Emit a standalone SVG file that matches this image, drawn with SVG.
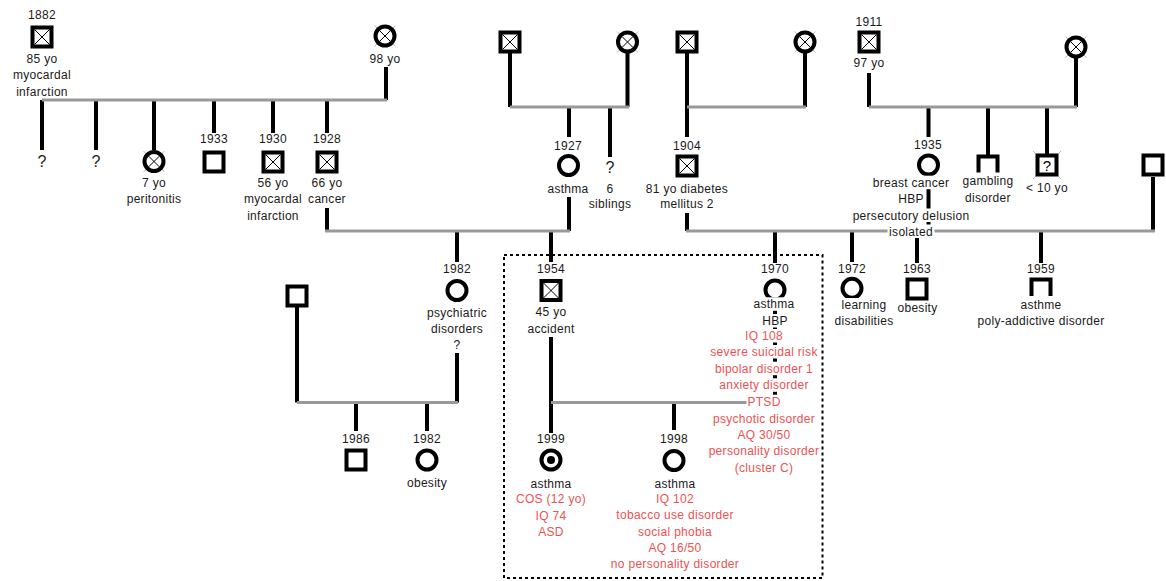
<svg xmlns="http://www.w3.org/2000/svg" width="1166" height="581" viewBox="0 0 1166 581">
<style>
text{font-family:"Liberation Sans",Arial,sans-serif;font-size:12px;letter-spacing:0.3px;text-anchor:middle;fill:#1a1a1a}
text.r{fill:#ee5252}
text.q{font-size:16px}
text.qi{font-size:15px;fill:#000}
.bg{fill:#fff}
.v{stroke:#000;stroke-width:4;fill:none}
.h{stroke:#999;stroke-width:3;fill:none}
.box{fill:none;stroke:#000;stroke-width:2;stroke-dasharray:3 3}
.sym{fill:#fff;stroke:#000;stroke-width:4}
.x{stroke:#000;stroke-width:1;fill:none}
.xo{stroke:#bbb;stroke-width:1;fill:none}
</style>
<defs>
<g id="m"><rect class="sym" x="-9.5" y="-9.5" width="19" height="19"/></g>
<g id="md"><rect class="sym" x="-9.5" y="-9.5" width="19" height="19"/><path class="x" d="M-7.5,-7.5L7.5,7.5M7.5,-7.5L-7.5,7.5"/></g>
<g id="f"><circle class="sym" r="9.5"/></g>
<g id="fd"><path class="xo" d="M-10.5,-10.5L10.5,10.5M10.5,-10.5L-10.5,10.5"/><circle class="sym" r="9.5"/><path class="x" d="M-5.3,-5.3L5.3,5.3M5.3,-5.3L-5.3,5.3"/></g>
</defs>
<rect width="1166" height="581" fill="#fff"/>

<rect id="proband-box" class="box" x="504" y="255" width="318.5" height="323"/>

<g id="connectors">
<path class="v" d="M386,67V100M42,100V150M96,100V150M154,100V150M214,100V133M273,100V133M327,100V133M327,208V231"/>
<path class="v" d="M510,53V107M627.5,53V107M569,107V137M569,197V231M610,107V157"/>
<path class="v" d="M687,53V137M805,53V107M687,213V231"/>
<path class="v" d="M869,73V107M1076,58V107M928.5,107V137M928.5,177V231M988,107V157M1047,107V155M1153,177V231"/>
<path class="v" d="M457,231V262M457,353V402.5M551,231V262M551,337V433M775,231V263M775,301V402.5M852,231V262M917,231V263M1041,231V263"/>
<path class="v" d="M297,307V402.5M356,402.5V431M427,402.5V431M674,402.5V430"/>
<path class="h" d="M42,100H387M510,107H629M687,107H806M869,107H1077M325,231H570M686,231H1155M297,402.5H458M551,402.5H747"/>
</g>

<g id="n1882"><text x="42" y="19">1882</text><use href="#md" x="42" y="37"/><text x="42" y="62.5">85 yo</text><text x="42" y="79">myocardal</text><text x="42" y="95.5">infarction</text></g>
<g id="nA-wife"><use href="#fd" x="385" y="36"/><text x="385" y="63">98 yo</text></g>
<g id="nA-c1"><text class="q" x="42" y="166.5">?</text></g>
<g id="nA-c2"><text class="q" x="96" y="166.5">?</text></g>
<g id="nA-c3"><use href="#fd" x="154" y="161.5"/><text x="154" y="187">7 yo</text><text x="154" y="203">peritonitis</text></g>
<g id="n1933"><text x="214" y="143">1933</text><use href="#m" x="214" y="162"/></g>
<g id="n1930"><text x="273" y="143">1930</text><use href="#md" x="273" y="162"/><text x="273" y="187">56 yo</text><text x="273" y="203">myocardal</text><text x="273" y="220">infarction</text></g>
<g id="n1928"><text x="327" y="143">1928</text><use href="#md" x="327" y="162"/><text x="327" y="187">66 yo</text><text x="327" y="203">cancer</text></g>

<g id="nB-husband"><use href="#md" x="510" y="42"/></g>
<g id="nB-wife"><use href="#fd" x="627.5" y="42"/></g>
<g id="n1927"><text x="568" y="150">1927</text><use href="#f" x="568.5" y="165.5"/><text x="568" y="192.5">asthma</text></g>
<g id="nB-sibs"><text class="q" x="610" y="173">?</text><text x="610" y="193">6</text><text x="610" y="208">siblings</text></g>

<g id="nC-husband"><use href="#md" x="687" y="42"/></g>
<g id="nC-wife"><use href="#fd" x="805" y="42"/></g>
<g id="n1904"><text x="687" y="150">1904</text><use href="#md" x="687" y="166"/><text x="687" y="193">81 yo diabetes</text><text x="687" y="208">mellitus 2</text></g>

<g id="n1911"><text x="869" y="25.5">1911</text><use href="#md" x="869" y="42"/><text x="869" y="66.5">97 yo</text></g>
<g id="nD-wife"><use href="#fd" x="1076" y="47"/></g>
<g id="n1935"><text x="928" y="149">1935</text><use href="#f" x="928.5" y="165"/>
<rect class="bg" x="872" y="175.7" width="79" height="13.5"/><text x="911" y="186.7">breast cancer</text>
<rect class="bg" x="897" y="191.7" width="28" height="13.5"/><text x="911" y="202.7">HBP</text>
<rect class="bg" x="851.5" y="208.5" width="119" height="13.5"/><text x="911" y="219.5">persecutory delusion</text>
<rect class="bg" x="887.5" y="224.5" width="47" height="13.5"/><text x="911" y="235.5">isolated</text></g>
<g id="nD-gambling"><use href="#m" x="988" y="166"/><rect class="bg" x="961.5" y="172.5" width="53" height="15"/><text x="988" y="185">gambling</text><text x="988" y="201.7">disorder</text></g>
<g id="nD-young"><path class="xo" d="M1033,151L1061,179M1061,151L1033,179"/><rect class="sym" x="1037.5" y="155.5" width="19" height="19"/><text class="qi" x="1047" y="170.5">?</text><text x="1047" y="191.7">&lt; 10 yo</text></g>
<g id="nE-husband"><use href="#m" x="1153" y="165"/></g>

<g id="n1982a"><text x="457" y="273">1982</text><use href="#f" x="457" y="290.5"/><text x="457" y="316.5">psychiatric</text><text x="457" y="332.7">disorders</text><text x="457" y="349">?</text></g>
<g id="n1954"><text x="551" y="273">1954</text><use href="#md" x="551" y="290.5"/><text x="551" y="316">45 yo</text><text x="551" y="332.7">accident</text></g>
<g id="n1970"><text x="775" y="273">1970</text><use href="#f" x="775" y="290"/>
<rect class="bg" x="752.5" y="297.3" width="43" height="13.5"/><text x="774" y="308.3">asthma</text>
<rect class="bg" x="761" y="314" width="28" height="13.5"/><text x="775" y="325">HBP</text>
<rect class="bg" x="744" y="329" width="40" height="13.5"/><text class="r" x="764" y="340">IQ 108</text>
<rect class="bg" x="709" y="345" width="110" height="13.5"/><text class="r" x="764" y="356">severe suicidal risk</text>
<rect class="bg" x="714" y="361.7" width="100" height="13.5"/><text class="r" x="764" y="372.7">bipolar disorder 1</text>
<rect class="bg" x="718" y="378.3" width="92" height="13.5"/><text class="r" x="764" y="389.3">anxiety disorder</text>
<rect class="bg" x="746.5" y="394.7" width="35" height="13.5"/><text class="r" x="764" y="405.7">PTSD</text>
<text class="r" x="764" y="422.7">psychotic disorder</text>
<text class="r" x="764" y="439">AQ 30/50</text>
<text class="r" x="764" y="455">personality disorder</text>
<text class="r" x="764" y="471.7">(cluster C)</text></g>
<g id="n1972"><text x="852" y="273">1972</text><use href="#f" x="852" y="288.3"/><rect class="bg" x="840.5" y="298" width="47" height="13.5"/><text x="864" y="309">learning</text><text x="864" y="325">disabilities</text></g>
<g id="n1963"><text x="917" y="273">1963</text><use href="#m" x="917" y="289"/><rect class="bg" x="896.5" y="301" width="42" height="13.5"/><text x="917.5" y="312">obesity</text></g>
<g id="n1959"><text x="1041" y="273">1959</text><use href="#m" x="1041" y="289"/><rect class="bg" x="1019.5" y="296" width="43" height="15.5"/><text x="1041" y="309">asthme</text><text x="1041" y="325">poly-addictive disorder</text></g>

<g id="nF-husband"><use href="#m" x="297" y="296"/></g>
<g id="n1986"><text x="356" y="443">1986</text><use href="#m" x="356" y="460"/></g>
<g id="n1982b"><text x="427" y="443">1982</text><use href="#f" x="427" y="460"/><text x="427" y="486.7">obesity</text></g>
<g id="n1999"><text x="551" y="443">1999</text><use href="#f" x="551" y="460"/><circle cx="551" cy="460" r="4" fill="#000"/><text x="551" y="488">asthma</text><text class="r" x="551" y="503.3">COS (12 yo)</text><text class="r" x="551" y="519.7">IQ 74</text><text class="r" x="551" y="536">ASD</text></g>
<g id="n1998"><text x="674" y="443">1998</text><use href="#f" x="674" y="460.5"/><text x="675" y="488.3">asthma</text><text class="r" x="675" y="502.7">IQ 102</text><text class="r" x="675" y="519.3">tobacco use disorder</text><text class="r" x="675" y="535.7">social phobia</text><text class="r" x="675" y="551.7">AQ 16/50</text><text class="r" x="675" y="568.3">no personality disorder</text></g>
</svg>
